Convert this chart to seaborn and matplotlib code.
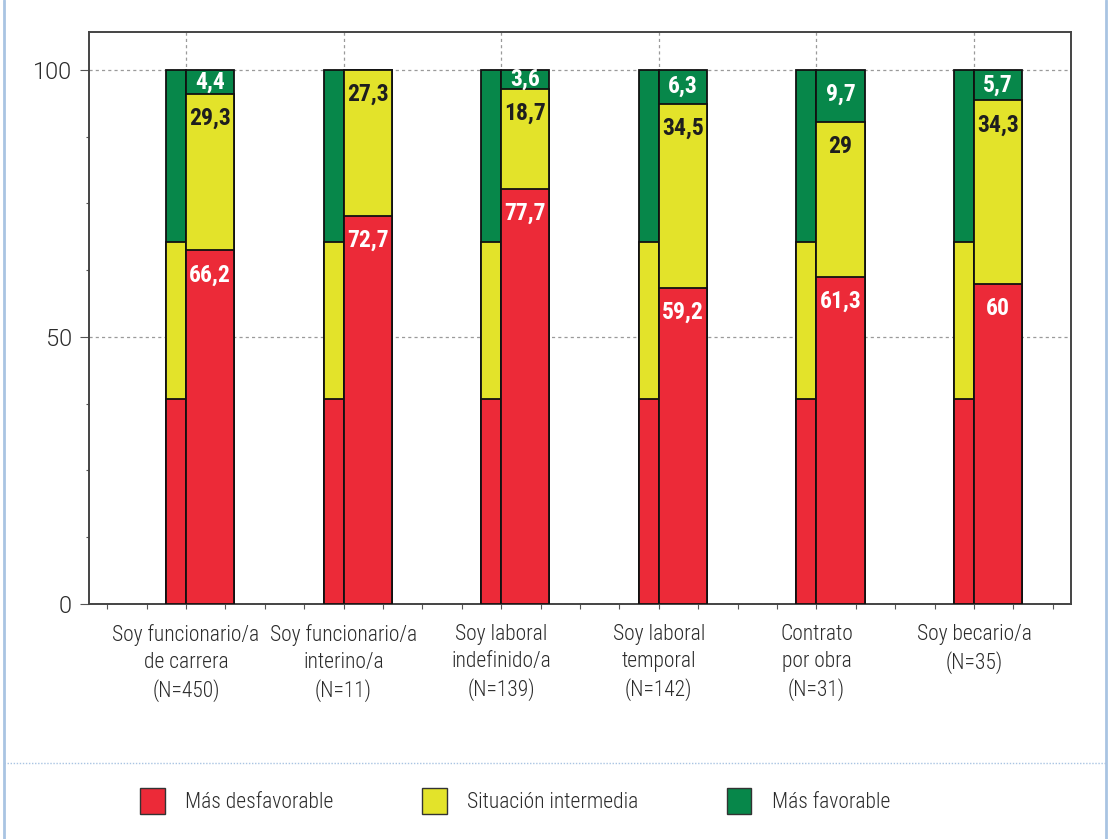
import numpy as np
import pandas as pd
import matplotlib
matplotlib.use("Agg")
import matplotlib.pyplot as plt
from matplotlib.patches import Patch
from matplotlib.lines import Line2D
from matplotlib.ticker import MultipleLocator, FixedFormatter
import seaborn as sns

# ---- data -------------------------------------------------------------
categories = [
    "Soy funcionario/a\nde carrera\n(N=450)",
    "Soy funcionario/a\ninterino/a\n(N=11)",
    "Soy laboral\nindefinido/a\n(N=139)",
    "Soy laboral\ntemporal\n(N=142)",
    "Contrato\npor obra\n(N=31)",
    "Soy becario/a\n(N=35)",
]
desfavorable = [66.2, 72.7, 77.7, 59.2, 61.3, 60]
intermedia = [29.3, 27.3, 18.7, 34.5, 29, 34.3]
favorable = [4.4, 0, 3.6, 6.3, 9.7, 5.7]

# overall distribution, drawn as the narrow bar beside each group
total_desfavorable = 38.3
total_intermedia = 29.4
total_favorable = 32.3

series_names = ["Más desfavorable", "Situación intermedia", "Más favorable"]
y_ticks = [0, 50, 100]

# ---- style ------------------------------------------------------------
RED = "#EC2A38"
YELLOW = "#E3E32A"
GREEN = "#07874A"
FRAME = "#A9C4E2"
TEXT = "#2b2b2b"

sns.set_style("white")
plt.rcParams["font.family"] = ["Roboto Condensed", "DejaVu Sans"]
plt.rcParams["font.weight"] = 300

fig = plt.figure(figsize=(11.11, 8.39), dpi=100)
ax = fig.add_axes([89 / 1111, 1 - 604 / 839, (1071 - 89) / 1111, (604 - 32) / 839])

n = len(categories)
pos = np.arange(n)
red = np.array(desfavorable, dtype=float)
yel = np.array(intermedia, dtype=float)
grn = np.array(favorable, dtype=float)

MAIN_W = 0.305
REF_W = 0.127

main = pd.DataFrame({
    "pos": pos + MAIN_W / 2,
    "red": red,
    "red_yel": red + yel,
    "all": red + yel + grn,
})
ref = pd.DataFrame({
    "pos": pos - REF_W / 2,
    "red": [total_desfavorable] * n,
    "red_yel": [total_desfavorable + total_intermedia] * n,
    "all": [total_desfavorable + total_intermedia + total_favorable] * n,
})

# stacked segments: draw cumulative totals from the top layer down
for frame, w in ((ref, REF_W), (main, MAIN_W)):
    for col, colr in (("all", GREEN), ("red_yel", YELLOW), ("red", RED)):
        sns.barplot(data=frame, x="pos", y=col, orient="x", native_scale=True,
                    width=w, color=colr, saturation=1, edgecolor="#111111",
                    linewidth=1.3, errorbar=None, ax=ax, zorder=3)

# value labels on the main bars
def fmt(v):
    return f"{v:g}".replace(".", ",")

for i in range(n):
    x = pos[i] + MAIN_W / 2
    segs = [
        (0, red[i], "white"),
        (red[i], yel[i], "#1e1e1e"),
        (red[i] + yel[i], grn[i], "white"),
    ]
    for base, val, tc in segs:
        if val <= 0:
            continue
        top = base + val
        y = top - min(4.6, val / 2)
        ax.text(x, y, fmt(val), ha="center", va="center", color=tc,
                fontsize=17, fontweight="bold", zorder=5)

# ---- axes -------------------------------------------------------------
ax.set_xlim(-0.615, n - 1 + 0.615)
ax.set_ylim(0, 107.1)
ax.set_xlabel("")
ax.set_ylabel("")

ax.set_xticks(pos)
ax.set_xticklabels(categories, fontsize=15.5, color=TEXT, linespacing=1.36)
ax.xaxis.set_minor_locator(MultipleLocator(0.25))
ax.set_yticks(y_ticks)
ax.yaxis.set_major_formatter(FixedFormatter([str(t) for t in y_ticks]))
ax.yaxis.set_minor_locator(MultipleLocator(12.5))

ax.tick_params(axis="x", which="both", direction="out", length=3.5,
               width=0.8, color="#555555", pad=11, bottom=True)
ax.tick_params(axis="y", which="major", direction="out", length=6.5,
               width=0.8, color="#555555", pad=6, left=True,
               labelsize=17, labelcolor=TEXT)
ax.tick_params(axis="y", which="minor", direction="out", length=2.5,
               width=0.8, color="#555555", left=True)

ax.grid(True, which="major", axis="both", color="#9a9a9a",
        linestyle=(0, (2.5, 2.5)), linewidth=0.9, zorder=0)
ax.set_axisbelow(True)
for side in ("left", "right", "top", "bottom"):
    ax.spines[side].set_visible(True)
    ax.spines[side].set_color("#444444")
    ax.spines[side].set_linewidth(1.4)

# y values use the wider light face
for t in ax.yaxis.get_major_ticks():
    t.label1.set_fontfamily(["Roboto", "DejaVu Sans"])
    t.label1.set_fontweight(300)

# ---- legend -----------------------------------------------------------
handles = [Patch(facecolor=c, edgecolor="#333333", linewidth=1.0)
           for c in (RED, YELLOW, GREEN)]
fig.legend(handles, series_names, loc="center left",
           bbox_to_anchor=(140 / 1111, 1 - 801 / 839), ncol=3, frameon=False,
           fontsize=15.5, handlelength=1.15, handleheight=1.5,
           handletextpad=0.95, columnspacing=4.1, labelcolor=TEXT,
           borderaxespad=0, borderpad=0)

# ---- panel frame ------------------------------------------------------
fig.add_artist(Line2D([4 / 1111, 4 / 1111], [0, 1], transform=fig.transFigure,
                      color=FRAME, linewidth=2))
fig.add_artist(Line2D([1106 / 1111, 1106 / 1111], [0, 1], transform=fig.transFigure,
                      color=FRAME, linewidth=2))
fig.add_artist(Line2D([4 / 1111, 1106 / 1111], [1 - 763 / 839, 1 - 763 / 839],
                      transform=fig.transFigure, color=FRAME, linewidth=1.0,
                      linestyle=(0, (1, 1.2))))

fig.savefig("out.png", dpi=100)
